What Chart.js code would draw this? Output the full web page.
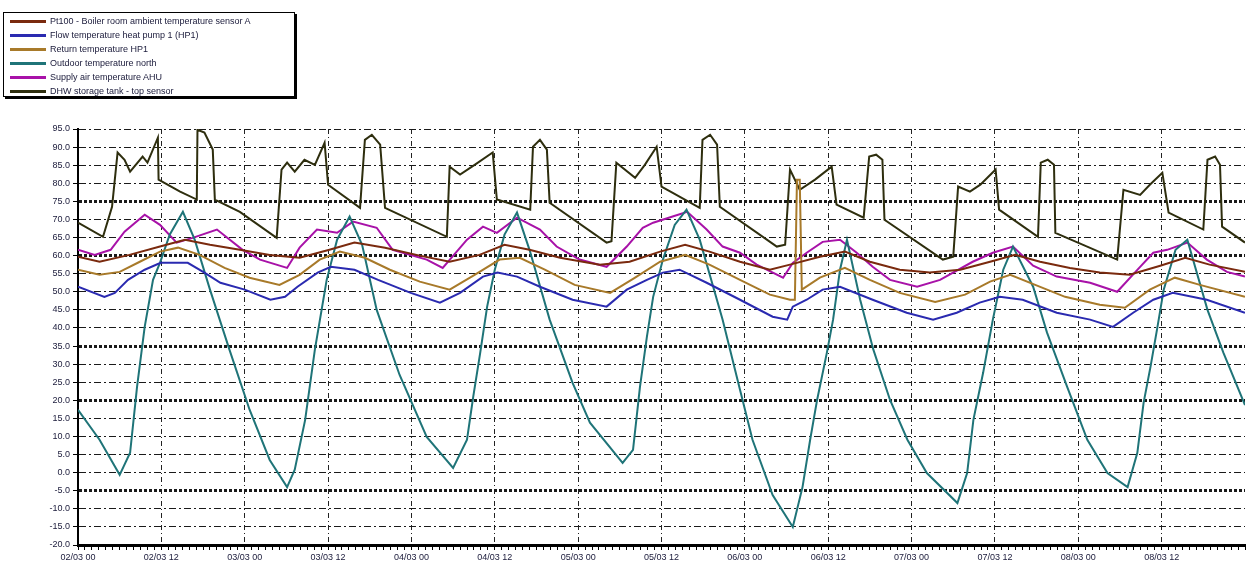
<!DOCTYPE html>
<html>
<head>
<meta charset="utf-8">
<script src="https://cdn.jsdelivr.net/npm/chart.js@4/dist/chart.umd.min.js"></script>
<style>
  html, body { margin: 0; padding: 0; background: #fff; }
  #wrap { position: relative; width: 1255px; height: 566px; }
  #legend {
    position: absolute; left: 3px; top: 12px; width: 292px; height: 85px;
    border: 1px solid #000; box-shadow: 2px 2px 0 #000; background: #fff;
    font: 9px "Liberation Sans", Arial, sans-serif; color: #1a1a3a;
    padding-top: 1px; box-sizing: border-box;
  }
  #legend .row { height: 14px; display: flex; align-items: center; white-space: nowrap; }
  #legend .swatch { width: 36px; height: 3px; margin: 0 4px 0 6px; }
</style>
</head>
<body>
<div id="wrap">
  <canvas id="myChart" width="1255" height="566"></canvas>
  <div id="legend"></div>
</div>
<script>
// x axis: hours from the start of the week, one label every 12 h
const xTickLabels = ['02/03 00', '02/03 12', '03/03 00', '03/03 12', '04/03 00', '04/03 12', '05/03 00',
  '05/03 12', '06/03 00', '06/03 12', '07/03 00', '07/03 12', '08/03 00', '08/03 12'];

const seriesNames = [
  'Pt100 - Boiler room ambient temperature sensor A',
  'Flow temperature heat pump 1 (HP1)',
  'Return temperature HP1',
  'Outdoor temperature north',
  'Supply air temperature AHU',
  'DHW storage tank - top sensor'
];
const seriesColors = ['#7a2a0e', '#2a2ab0', '#a87a2a', '#1f7478', '#a812a8', '#2e2e0e'];

// series 1 - ambient (red/brown)
const ambientHours = [0,3.1,7.4,11.8,15.4,19.0,23.3,27.6,31.9,36.2,39.8,44.2,49.2,53.5,57.8,61.4,65.0,69.4,75.1,79.4,
  83.8,87.4,90.9,95.3,99.6,102.5,106.8,110.4,114.0,118.3,122.6,127.0,131.3,134.9,138.5,142.8,147.1,151.4,155.8,159.4,162.9,168];
const ambientValues = [59.7,58.3,60.2,62.5,64.4,63.0,61.6,60.2,59.4,61.6,63.6,62.2,60.0,58.3,60.2,63.0,61.6,59.4,57.5,58.3,
  61.1,63.0,61.1,58.3,56.1,57.5,59.7,61.1,58.3,56.1,55.3,56.1,58.3,60.2,58.3,56.6,55.3,54.7,57.2,59.4,57.5,55.5];

// series 2 - flow (blue)
const flowHours = [0,3.8,5.3,7.2,9.6,11.9,15.8,18.2,20.5,24.0,27.7,29.8,31.6,34.5,36.4,39.8,43.2,47.9,52.1,55.0,
  58.3,60.4,63.2,66.5,71.2,76.1,79.0,81.9,84.2,86.6,90.5,95.3,100.0,102.1,102.9,104.9,107.2,109.7,114.4,119.3,
  123.1,126.5,129.8,132.7,136.0,140.9,145.7,149.0,151.9,154.8,157.6,162.5,168];
const flowValues = [51.4,48.6,49.7,53.3,56.1,58.0,58.0,55.3,52.5,50.6,47.8,48.6,51.4,55.3,56.9,56.1,53.3,49.7,47.0,49.7,
  54.2,55.3,54.2,51.4,47.8,45.9,50.6,53.3,55.3,56.1,52.5,47.8,43.1,42.3,45.9,47.8,50.6,51.4,47.8,44.2,
  42.3,44.2,47.0,48.6,47.8,44.2,42.3,40.3,44.2,47.8,49.7,47.8,44.2];

// series 3 - return
const returnHours = [0,3.1,6.0,8.9,11.8,14.4,17.5,21.1,24.7,29.0,31.9,34.8,37.7,41.3,44.9,49.2,53.5,57.1,60.7,63.6,
  67.2,71.5,76.6,80.2,83.8,87.4,90.9,95.3,99.6,102.5,103.2,103.5,103.9,104.2,106.8,110.4,114.0,118.3,123.4,127.7,
  131.3,134.2,137.8,142.1,147.1,150.7,154.3,157.9,161.5,168];
const returnValues = [56.1,54.7,55.5,58.3,61.1,62.2,60.2,56.6,53.9,51.9,54.7,58.9,61.1,59.4,56.1,52.8,50.6,54.7,58.9,59.4,
  56.1,51.9,49.7,53.9,58.3,60.2,57.5,53.3,49.2,47.8,47.8,81.0,81.0,50.6,53.9,56.6,53.3,49.7,47.2,49.2,
  52.8,54.7,51.9,48.6,46.4,45.6,50.6,53.9,51.9,48.6];

// series 4 - outdoor (deep daily swing)
const outdoorHours = [0,3.1,6.0,7.5,8.5,9.6,10.8,11.8,13.2,15.1,16.8,19.0,21.8,24.7,27.6,30.1,31.2,32.7,34.1,35.8,
  37.3,39.1,40.9,43.0,46.3,50.2,54.0,56.0,56.9,57.9,58.9,60.0,61.4,63.2,65.0,67.9,71.2,73.7,78.4,79.9,
  80.9,81.9,82.8,84.2,85.9,87.6,89.5,92.8,95.3,97.1,100.0,102.9,104.3,105.4,106.4,107.8,108.7,109.7,110.7,112.6,
  114.5,116.9,119.4,122.2,126.6,128.0,128.9,130.3,131.7,133.2,134.6,137.5,139.5,142.4,145.3,148.2,151.1,152.5,153.4,154.4,
  155.4,156.3,158.0,159.7,162.6,164.9,168];
const outdoorValues = [17.4,9.1,-0.6,5.5,23.7,40.3,53.3,58.0,65.8,72.1,64.4,50.6,34.0,17.4,3.5,-4.0,0.8,14.6,34.0,53.3,
  64.4,70.8,63.0,45.0,27.0,9.9,1.3,9.1,21.0,33.1,45.9,56.1,65.8,71.9,61.6,42.3,24.8,13.8,2.7,6.3,
  23.7,37.6,48.6,58.9,68.5,72.7,64.4,42.3,22.9,9.1,-6.2,-15.0,-4.0,9.1,20.1,33.1,42.3,56.1,64.4,47.8,
  34.0,20.1,9.1,-0.1,-8.4,-0.1,14.6,27.6,42.3,56.1,62.5,51.4,38.7,23.7,9.1,-0.1,-4.0,5.5,19.3,29.3,
  40.3,50.6,61.6,64.4,45.0,33.1,18.7];

// series 5 - supply air (magenta)
const supplyHours = [0,2.4,4.7,6.7,9.6,11.8,14.2,16.5,20.0,23.7,26.2,30.1,31.9,34.4,37.3,39.6,43.0,45.3,50.2,52.5,
  56.0,58.3,60.3,63.2,66.5,68.9,72.2,76.1,79.0,81.3,82.8,85.6,87.7,90.5,92.8,95.3,97.7,101.5,102.9,104.9,
  107.2,109.7,112.1,114.4,116.9,120.8,124.1,128.8,131.7,134.6,137.5,140.9,145.7,149.6,152.9,154.8,156.8,159.7,162.5,165.4,168];
const supplyValues = [61.6,60.2,61.6,66.6,71.3,68.5,63.6,64.9,67.2,61.6,58.9,56.6,62.2,67.2,66.3,69.4,67.7,61.6,58.9,56.6,
  64.4,68.0,66.3,70.5,67.2,62.5,58.9,56.9,62.5,67.7,69.1,70.8,72.1,67.2,62.5,60.8,57.5,53.9,58.0,60.8,
  63.8,64.4,60.8,56.9,53.3,51.4,53.3,58.3,60.8,62.5,57.2,54.2,52.5,50.0,56.9,60.8,61.6,63.6,58.9,55.5,54.2];

// series 6 - DHW tank (charging pulses)
const dhwHours = [0,3.6,4.9,5.3,5.7,6.7,7.5,9.3,10,11.5,11.6,14.7,17.1,17.2,18.2,19.4,19.7,23.3,28.6,29.3,
  30.1,31.2,32.6,34.1,35.5,36,40.6,41.3,42.3,43.5,44.2,53.1,53.5,55,57.1,59.7,60.3,65.1,65.5,66.5,
  67.5,67.9,76.1,76.8,77.5,80.2,81.6,83.3,84,89.5,89.9,91,92,92.4,100.6,101.8,102.5,103.9,106.1,108.5,
  109.2,113.1,113.9,114.9,115.8,116.1,124.5,126,126.7,128.4,129.9,132.1,132.6,138.2,138.6,139.6,140.5,140.7,149.6,150.5,
  152.9,154.3,156.1,157,162,162.6,163.7,164.4,164.7,168];
const dhwValues = [69.1,65.2,73.5,81.0,88.5,86.5,83.2,87.4,85.7,92.6,81.0,77.7,75.5,94.8,94.0,89.3,75.5,72.1,64.9,83.8,
  85.7,83.2,86.5,85.1,91.2,79.6,73.2,92.0,93.4,90.7,73.2,65.2,84.6,82.4,85.1,88.5,75.5,72.7,90.1,92.0,
  89.3,74.6,63.6,64.0,85.7,81.5,85.1,90.1,79.1,73.2,92.0,93.4,90.7,73.5,62.5,63.0,83.8,78.2,81.0,84.6,
  74.1,70.5,87.4,87.9,86.5,69.9,58.9,59.7,79.1,77.7,79.6,83.8,72.7,65.2,85.7,86.5,85.1,66.3,58.9,78.2,
  76.8,79.6,82.9,71.9,67.2,86.5,87.4,85.1,68.0,63.6];

// y gridlines drawn heavier in the original
const boldYValues = [75, 60, 35, 20, -5];

function pairs(hours, values) {
  return hours.map((h, i) => ({x: h, y: values[i]}));
}

const allHours = [ambientHours, flowHours, returnHours, outdoorHours, supplyHours, dhwHours];
const allValues = [ambientValues, flowValues, returnValues, outdoorValues, supplyValues, dhwValues];

const datasets = seriesNames.map((name, i) => ({
  label: name,
  data: pairs(allHours[i], allValues[i]),
  borderColor: seriesColors[i],
  backgroundColor: seriesColors[i],
  borderWidth: 2,
  pointRadius: 0,
  tension: 0,
  fill: false
}));

const tickFont = {family: '"Liberation Sans", Arial, sans-serif', size: 9};

const config = {
  type: 'line',
  data: {datasets: datasets},
  options: {
    responsive: false,
    animation: false,
    layout: {padding: {top: 129, left: 30, right: 10, bottom: 0}},
    plugins: {legend: {display: false}, tooltip: {enabled: false}},
    scales: {
      x: {
        type: 'linear',
        min: 0,
        max: 168,
        afterFit: s => { s.height = 21; },
        ticks: {
          stepSize: 1,
          autoSkip: false,
          maxRotation: 0,
          minRotation: 0,
          padding: 2,
          color: '#1a1a3a',
          font: tickFont,
          callback: v => (v % 12 === 0 && v < 168) ? xTickLabels[v / 12] : ''
        },
        grid: {
          color: c => (c.tick && c.tick.value % 12 === 0 && c.tick.value < 168) ? '#222' : 'rgba(0,0,0,0)',
          tickColor: '#000',
          tickLength: 5,
          tickWidth: 1,
          lineWidth: 1
        },
        border: {display: true, color: '#000', width: 3, dash: c => c.tick ? [5, 3, 1, 3] : []}
      },
      y: {
        min: -20,
        max: 95,
        afterFit: s => { s.width = 48; },
        ticks: {
          stepSize: 5,
          padding: 3,
          color: '#1a1a3a',
          font: tickFont,
          callback: v => v.toFixed(1)
        },
        grid: {
          color: '#1a1a1a',
          lineWidth: c => (c.tick && boldYValues.includes(c.tick.value)) ? 3 : 1,
          tickColor: '#000',
          tickWidth: 1,
          tickLength: 5
        },
        border: {
          display: true, color: '#000', width: 2,
          dash: c => !c.tick ? [] : (boldYValues.includes(c.tick.value) ? [3, 2] : [7, 3, 2, 3])
        }
      }
    }
  }
};

const myChart = new Chart(document.getElementById('myChart'), config);

// boxed legend in the top-left corner
const legendBox = document.getElementById('legend');
myChart.data.datasets.forEach(ds => {
  const row = document.createElement('div');
  row.className = 'row';
  const sw = document.createElement('span');
  sw.className = 'swatch';
  sw.style.background = ds.borderColor;
  const txt = document.createElement('span');
  txt.textContent = ds.label;
  row.appendChild(sw);
  row.appendChild(txt);
  legendBox.appendChild(row);
});
</script>
</body>
</html>
